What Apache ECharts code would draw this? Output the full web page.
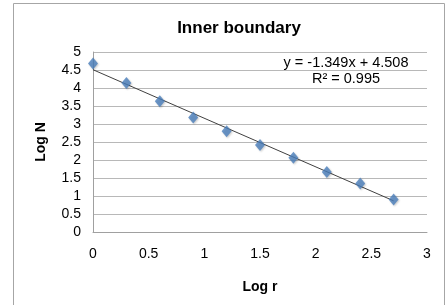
<!DOCTYPE html>
<html>
<head>
<meta charset="utf-8">
<script src="https://cdn.jsdelivr.net/npm/echarts@6/dist/echarts.min.js"></script>
<style>
  html, body { margin: 0; padding: 0; background: #fff; }
  #chart { width: 446px; height: 305px; }
</style>
</head>
<body>
<div id="chart"></div>
<script>
// data
var logR = [0, 0.3, 0.6, 0.9, 1.2, 1.5, 1.8, 2.1, 2.4, 2.7];
var logN = [4.68, 4.14, 3.63, 3.18, 2.80, 2.42, 2.06, 1.67, 1.35, 0.90];
var trendX = [0, 2.7];
var trendY = [4.508, 0.866];
var equation = 'y = -1.349x + 4.508';
var rSquared = 'R\u00b2 = 0.995';

var chart = echarts.init(document.getElementById('chart'));
var font = 'Liberation Sans, Arial, sans-serif';

var points = [];
for (var i = 0; i < logR.length; i++) {
  points.push([logR[i], logN[i]]);
}
var trend = [];
for (var j = 0; j < trendX.length; j++) {
  trend.push([trendX[j], trendY[j]]);
}

var option = {
  animation: false,
  backgroundColor: '#fff',
  title: {
    text: 'Inner boundary',
    left: 234,
    top: 15,
    textAlign: 'center',
    textStyle: { fontFamily: font, fontSize: 17, fontWeight: 'bold', color: '#000' }
  },
  grid: {
    left: 93,
    right: 19,
    top: 52,
    bottom: 73
  },
  xAxis: {
    type: 'value',
    min: 0,
    max: 3,
    interval: 0.5,
    name: 'Log r',
    nameLocation: 'middle',
    nameGap: 48,
    nameTextStyle: { fontFamily: font, fontSize: 14, fontWeight: 'bold', color: '#000' },
    axisLine: { show: true, lineStyle: { color: '#a0a0a0' } },
    axisTick: { show: false },
    splitLine: { show: false },
    axisLabel: { fontFamily: font, fontSize: 14, color: '#000', margin: 15 }
  },
  yAxis: {
    type: 'value',
    min: 0,
    max: 5,
    interval: 0.5,
    name: 'Log N',
    nameLocation: 'middle',
    nameGap: 45,
    nameRotate: 90,
    nameTextStyle: { fontFamily: font, fontSize: 14, fontWeight: 'bold', color: '#000' },
    axisLine: { show: true, lineStyle: { color: '#a0a0a0' } },
    axisTick: { show: false },
    splitLine: { show: true, lineStyle: { color: '#b8b8b8' } },
    axisLabel: { fontFamily: font, fontSize: 14, color: '#000', margin: 12 }
  },
  series: [
    {
      type: 'line',
      data: trend,
      symbol: 'none',
      lineStyle: { color: '#404040', width: 1 },
      z: 2
    },
    {
      type: 'scatter',
      data: points,
      symbol: 'diamond',
      symbolSize: [10, 12],
      itemStyle: { color: '#4a7ebb', shadowColor: 'rgba(0,0,0,0.25)', shadowBlur: 2, shadowOffsetX: 1, shadowOffsetY: 1 },
      z: 3
    }
  ],
  graphic: [
    {
      type: 'rect',
      shape: { x: 13.5, y: 3.5, width: 431, height: 310 },
      style: { fill: 'none', stroke: '#a6a6a6', lineWidth: 1 },
      silent: true
    },
    {
      type: 'text',
      x: 346,
      y: 63,
      style: { text: equation, font: '14.5px ' + font, fill: '#000', align: 'center', verticalAlign: 'middle' }
    },
    {
      type: 'text',
      x: 346,
      y: 79,
      style: { text: rSquared, font: '14.5px ' + font, fill: '#000', align: 'center', verticalAlign: 'middle' }
    }
  ]
};
chart.setOption(option);
</script>
</body>
</html>
